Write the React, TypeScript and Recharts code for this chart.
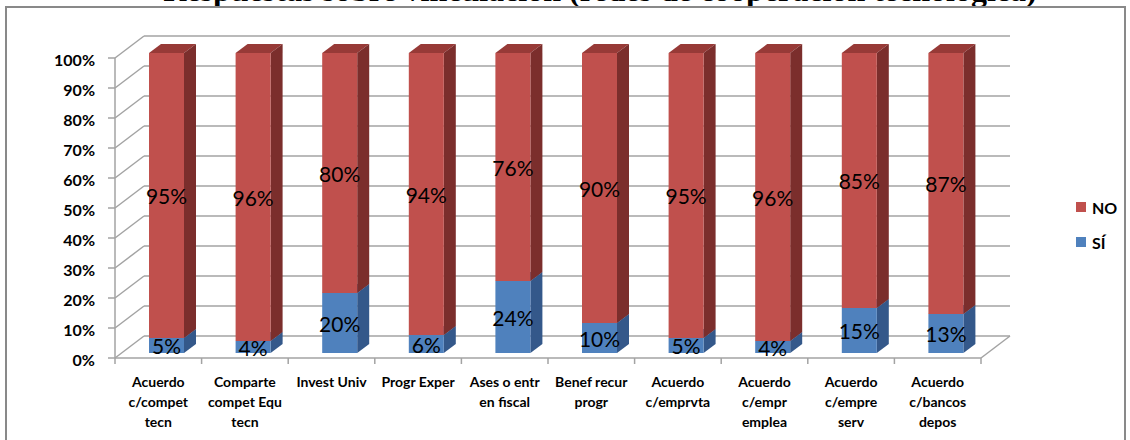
import { BarChart, Bar, XAxis, YAxis, CartesianGrid, LabelList } from "recharts";

const categories = [
  "Acuerdo\nc/compet\ntecn",
  "Comparte\ncompet Equ\ntecn",
  "Invest Univ",
  "Progr Exper",
  "Ases o entr\nen fiscal",
  "Benef recur\nprogr",
  "Acuerdo\nc/emprvta",
  "Acuerdo\nc/empr\nemplea",
  "Acuerdo\nc/empre\nserv",
  "Acuerdo\nc/bancos\ndepos",
];
const siValues = [5, 4, 20, 6, 24, 10, 5, 4, 15, 13];
const noValues = [95, 96, 80, 94, 76, 90, 95, 96, 85, 87];
const yTicks = [0, 10, 20, 30, 40, 50, 60, 70, 80, 90, 100];

const data = categories.map((name, i) => ({ name, si: siValues[i], no: noValues[i] }));

// plot box (front plane)
const W = 1130;
const H = 440;
const LEFT = 115;
const TOP = 58;
const RIGHT = 149;
const BOTTOM = 358;
const BAND = (W - LEFT - RIGHT) / categories.length;

// back wall offset and column depth
const DX = 29;
const DY = -22;
const BX = 8;
const BY = -5;
const DEPX = 12;
const DEPY = -9;

const GRID = "#a3a3a3";
const FONT = "Lato, 'Open Sans', sans-serif";

const colors = {
  no: { front: "#C0504D", side: "#7B2E2C", top: "#973A37" },
  si: { front: "#4F81BD", side: "#34588A", top: "#3D6A9E" },
};

function Box3D(props: any) {
  const { x, y, width, height, palette } = props;
  if (!height || height <= 0) return null;
  const fx = x + BX;
  const fy = y + BY;
  const side = `${fx + width},${fy} ${fx + width + DEPX},${fy + DEPY} ${fx + width + DEPX},${fy + height + DEPY} ${fx + width},${fy + height}`;
  const top = `${fx},${fy} ${fx + DEPX},${fy + DEPY} ${fx + width + DEPX},${fy + DEPY} ${fx + width},${fy}`;
  return (
    <g>
      <polygon points={top} fill={palette.top} />
      <polygon points={side} fill={palette.side} />
      <rect x={fx} y={fy} width={width} height={height} fill={palette.front} />
    </g>
  );
}

function ValueLabel(props: any) {
  const { x, y, width, height, value } = props;
  return (
    <text
      x={x + width / 2 + BX}
      y={y + height / 2 + BY}
      textAnchor="middle"
      dominantBaseline="central"
      fontFamily={FONT}
      fontSize={21}
      fill="#000"
    >
      {value}%
    </text>
  );
}

function GridLine(props: any) {
  const { x1, y1, x2, index } = props;
  const isFloor = Math.abs(y1 - BOTTOM) < 1;
  return (
    <g key={`grid-${index}`} stroke={GRID} strokeWidth={1.5}>
      <line x1={x1} y1={y1} x2={x1 + DX} y2={y1 + DY} />
      <line x1={x1 + DX} y1={y1 + DY} x2={x2 + DX} y2={y1 + DY} />
      {isFloor && <line x1={x2} y1={y1} x2={x2 + DX} y2={y1 + DY} />}
    </g>
  );
}

function CategoryTick(props: any) {
  const { x, payload, index } = props;
  const lines = String(payload.value).split("\n");
  const half = BAND / 2;
  return (
    <g>
      <line x1={x - half} y1={BOTTOM} x2={x - half} y2={BOTTOM + 6} stroke={GRID} strokeWidth={1.5} />
      {index === categories.length - 1 && (
        <line x1={x + half} y1={BOTTOM} x2={x + half} y2={BOTTOM + 6} stroke={GRID} strokeWidth={1.5} />
      )}
      <text
        x={x}
        y={BOTTOM + 29}
        textAnchor="middle"
        fontFamily={FONT}
        fontWeight="bold"
        fontSize={14}
        fill="#000"
      >
        {lines.map((l, i) => (
          <tspan key={i} x={x} dy={i === 0 ? 0 : 20}>
            {l}
          </tspan>
        ))}
      </text>
    </g>
  );
}

const legendItems = [
  { key: "no", label: "NO" },
  { key: "si", label: "SÍ" },
];

export default function App() {
  return (
    <div style={{ position: "absolute", left: 0, top: 0, width: W, height: H, overflow: "hidden", background: "#fff" }}>
      <svg width={W} height={20} style={{ position: "absolute", left: 0, top: 0 }}>
        <text
          x={600}
          y={1}
          textAnchor="middle"
          fontFamily="'Liberation Serif', 'Times New Roman', serif"
          fontWeight="bold"
          fontSize={32}
          fill="#000"
        >
          Respuestas sobre vinculación (redes de cooperación tecnológica)
        </text>
      </svg>
      <div
        style={{
          position: "absolute",
          left: 5,
          top: 6,
          width: 1117,
          height: 460,
          border: "2px solid #898989",
        }}
      />
      <div style={{ position: "absolute", left: 0, top: 0 }}>
        <BarChart
          width={W}
          height={H}
          data={data}
          margin={{ top: TOP, right: RIGHT, bottom: H - BOTTOM - 70, left: 0 }}
        >
          <CartesianGrid vertical={false} horizontal={(p: any) => <GridLine {...p} />} />
          <XAxis
            dataKey="name"
            height={70}
            axisLine={{ stroke: GRID, strokeWidth: 1.5 }}
            tickLine={false}
            tickSize={0}
            tickMargin={0}
            interval={0}
            tick={<CategoryTick />}
          />
          <YAxis
            width={LEFT}
            domain={[0, 100]}
            ticks={yTicks}
            interval={0}
            tickFormatter={(v: number) => `${v}%`}
            axisLine={{ stroke: GRID, strokeWidth: 1.5 }}
            tickLine={{ stroke: GRID, strokeWidth: 1.5 }}
            tickSize={7}
            tickMargin={13}
            tick={{ fontFamily: FONT, fontWeight: "bold", fontSize: 16, fill: "#000", dy: 2 }}
          />
          <Bar
            dataKey="si"
            stackId="a"
            barSize={35}
            isAnimationActive={false}
            shape={(p: any) => <Box3D {...p} palette={colors.si} />}
          >
            <LabelList dataKey="si" content={<ValueLabel />} />
          </Bar>
          <Bar
            dataKey="no"
            stackId="a"
            barSize={35}
            isAnimationActive={false}
            shape={(p: any) => <Box3D {...p} palette={colors.no} />}
          >
            <LabelList dataKey="no" content={<ValueLabel />} />
          </Bar>
        </BarChart>
      </div>
      <div style={{ position: "absolute", left: 1076, top: 196, fontFamily: FONT, fontWeight: "bold", fontSize: 16 }}>
        {legendItems.map((item) => (
          <div key={item.key} style={{ display: "flex", alignItems: "center", height: 22, marginBottom: 13 }}>
            <span
              style={{
                display: "inline-block",
                width: 10,
                height: 10,
                background: colors[item.key as "no" | "si"].front,
                marginRight: 6,
              }}
            />
            <span>{item.label}</span>
          </div>
        ))}
      </div>
    </div>
  );
}
